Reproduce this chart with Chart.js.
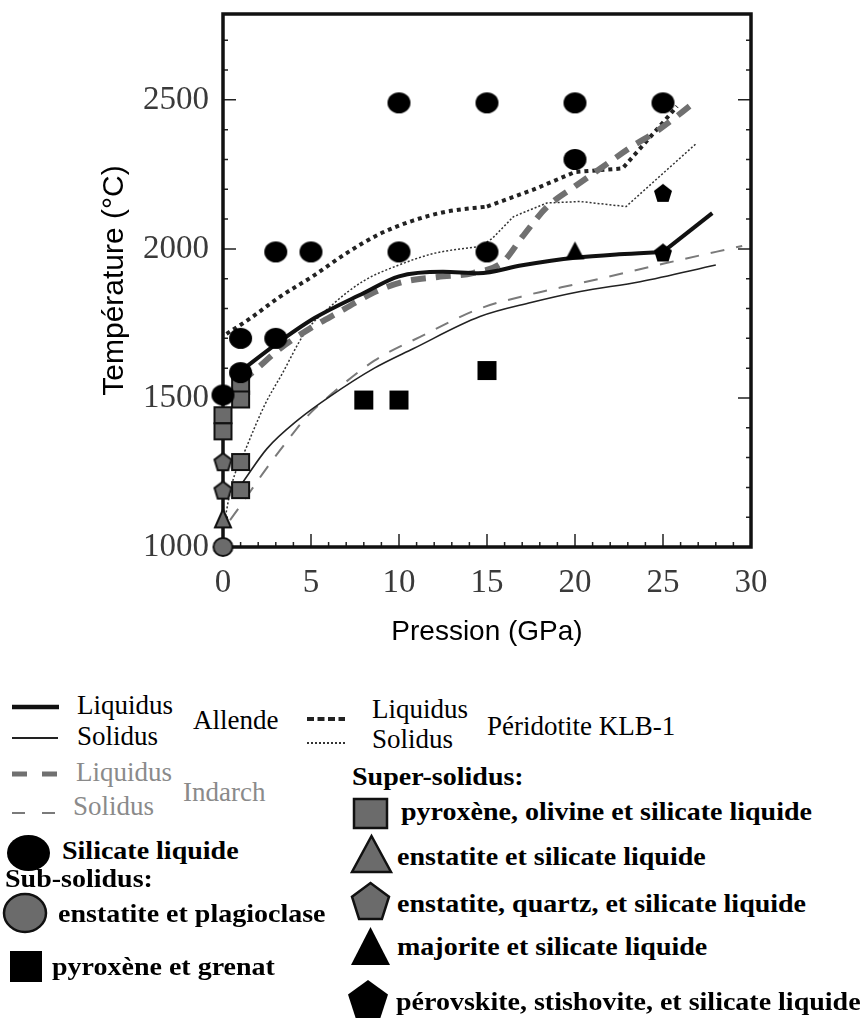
<!DOCTYPE html>
<html lang="fr">
<head>
<meta charset="UTF-8" />
<title>Température en fonction de la pression</title>
<script src="https://cdn.jsdelivr.net/npm/chart.js"></script>
<style>
  html, body { margin: 0; padding: 0; background: #fff; }
  #wrap { position: relative; width: 864px; height: 1019px; overflow: hidden; }
  #chartBox { position: absolute; left: 0; top: 0; width: 864px; height: 660px; }
  .lg { position: absolute; white-space: nowrap; font-family: "Liberation Serif", "Times New Roman", serif; color: #000; transform-origin: 0 50%; }
  .sym { position: absolute; }
</style>
</head>
<body>
<div id="wrap">
  <div id="chartBox"><canvas id="diagram" width="864" height="660"></canvas></div>
</div>
<script>
  // ---- courbes (pression en GPa, température en °C) ----
  const allendeLiqP = [1, 3, 5.2, 8, 10, 12.5, 14.5, 17, 20, 22.5, 25, 27.8];
  const allendeLiqT = [1590, 1680, 1768, 1852, 1908, 1923, 1918, 1945, 1970, 1982, 1990, 2120];

  const allendeSolP = [1.1, 2.5, 4.3, 6, 8.6, 10.8, 14.6, 17.5, 20.3, 23.7, 28];
  const allendeSolT = [1215, 1330, 1428, 1502, 1600, 1665, 1773, 1820, 1857, 1890, 1946];

  const indarchLiqP = [1, 1.6, 3.3, 5, 6.8, 8.5, 10.2, 12.2, 14.2, 15.9, 17, 18.4, 20, 21.5, 23.2, 24.7, 26.8];
  const indarchLiqT = [1555, 1582, 1668, 1735, 1795, 1852, 1889, 1906, 1919, 1956, 2040, 2140, 2210, 2272, 2342, 2397, 2492];

  const indarchSolP = [0.4, 1.1, 2.4, 3.6, 4.7, 6.3, 8.6, 11.2, 14.6, 17.5, 20.3, 25, 29.5];
  const indarchSolT = [1090, 1148, 1258, 1352, 1433, 1520, 1625, 1705, 1800, 1848, 1885, 1950, 2010];

  const klbLiqP = [0.2, 1.5, 3.2, 5.2, 7, 8.9, 10.8, 12.7, 15, 17.6, 20, 22.7, 25.8];
  const klbLiqT = [1715, 1765, 1838, 1912, 1985, 2050, 2095, 2125, 2142, 2198, 2258, 2270, 2478];

  const klbSolP = [0.1, 0.5, 1.3, 2.4, 3.35, 4.65, 6.2, 8, 10, 12, 14.6, 15.3, 16.5, 18.4, 20.3, 22.9, 26.9];
  const klbSolT = [1090, 1210, 1330, 1480, 1580, 1718, 1812, 1893, 1946, 1985, 2008, 2035, 2108, 2154, 2159, 2142, 2354];

  // index where a curve turns from smooth to straight segments
  const allendeLiqKink = 10;
  const klbLiqKink = 8;
  const klbSolKink = 10;

  // ---- expériences ----
  const silLiqP = [0, 1, 1, 3, 3, 5, 10, 10, 15, 15, 20, 20, 25];
  const silLiqT = [1510, 1585, 1700, 1700, 1990, 1990, 1990, 2490, 1990, 2490, 2300, 2490, 2490];

  const pyrOlP = [1, 1, 0, 0, 1, 1];
  const pyrOlT = [1540, 1495, 1442, 1388, 1285, 1191];

  const enstQzP = [0, 0];
  const enstQzT = [1286, 1191];

  const enstLiqP = [0];
  const enstLiqT = [1096];

  const enstPlagP = [0];
  const enstPlagT = [1000];

  const pyrGrenatP = [8, 10, 15];
  const pyrGrenatT = [1493, 1493, 1592];

  const majoriteP = [20];
  const majoriteT = [1995];

  const perovP = [25, 25];
  const perovT = [1988, 2188];

  const pressionTicks = [0, 5, 10, 15, 20, 25, 30];
  const temperatureTicks = [1000, 1500, 2000, 2500];

  const GREY = '#6b6b6b';

  function pts(P, T) { return P.map((p, i) => ({ x: p, y: T[i] })); }

  // marker drawn on a small canvas, used as Chart.js pointStyle
  function marker(shape, w, h, fill, stroke, lw) {
    lw = lw || 0;
    const pad = Math.ceil(lw) + 1;
    const c = document.createElement('canvas');
    c.width = Math.ceil(w) + pad * 2;
    c.height = Math.ceil(h) + pad * 2;
    const g = c.getContext('2d');
    const cx = c.width / 2, cy = c.height / 2;
    g.beginPath();
    if (shape === 'ellipse') {
      g.ellipse(cx, cy, w / 2, h / 2, 0, 0, Math.PI * 2);
    } else if (shape === 'rect') {
      g.rect(cx - w / 2, cy - h / 2, w, h);
    } else if (shape === 'triangle') {
      g.moveTo(cx, cy - h / 2);
      g.lineTo(cx + w / 2, cy + h / 2);
      g.lineTo(cx - w / 2, cy + h / 2);
      g.closePath();
    } else if (shape === 'pentagon') {
      for (let k = 0; k < 5; k++) {
        const a = -Math.PI / 2 + k * 2 * Math.PI / 5;
        const px = cx + Math.cos(a) * (w / 1.902);
        const py = cy - h / 2 + (Math.sin(a) + 1) * (h / 1.809);
        if (k === 0) g.moveTo(px, py); else g.lineTo(px, py);
      }
      g.closePath();
    }
    g.fillStyle = fill;
    g.fill();
    if (stroke && lw) { g.lineWidth = lw; g.strokeStyle = stroke; g.stroke(); }
    return c;
  }

  function pointSet(P, T, style) {
    return { data: pts(P, T), pointStyle: style, pointRadius: 10, showLine: false, clip: false };
  }
  function line(data, color, width, dash, smooth) {
    return {
      data, showLine: true, borderColor: color, borderWidth: width,
      borderDash: dash || [], borderCapStyle: 'butt', borderJoinStyle: 'round', pointRadius: 0,
      cubicInterpolationMode: smooth ? 'monotone' : 'default', tension: 0,
      fill: false, clip: false
    };
  }
  // smooth part up to the kink, straight segments after it
  function curve(P, T, color, width, dash, kink) {
    const d = pts(P, T);
    if (kink === undefined) return [line(d, color, width, dash, true)];
    return [line(d.slice(0, kink + 1), color, width, dash, true),
            line(d.slice(kink), color, width, dash, false)];
  }

  const frameAndTicks = {
    id: 'frameAndTicks',
    beforeDatasetsDraw(chart) {
      const { ctx, chartArea: a, scales: { x, y } } = chart;
      ctx.save();
      ctx.strokeStyle = '#222';
      ctx.lineWidth = 1.5;
      ctx.beginPath();
      for (let v = 1; v < 30; v++) {
        const px = x.getPixelForValue(v);
        const len = v % 5 === 0 ? 13 : 5;
        ctx.moveTo(px, a.bottom); ctx.lineTo(px, a.bottom - len);
      }
      for (let v = 1100; v < 2790; v += 100) {
        const py = y.getPixelForValue(v);
        const len = v % 500 === 0 ? 13 : 5;
        ctx.moveTo(a.left, py); ctx.lineTo(a.left + len, py);
        ctx.moveTo(a.right, py); ctx.lineTo(a.right - len, py);
      }
      ctx.stroke();
      ctx.lineWidth = 3.5;
      ctx.strokeStyle = '#111';
      ctx.strokeRect(a.left, a.top, a.right - a.left, a.bottom - a.top);
      ctx.restore();
    }
  };

  const serif = '"Liberation Serif", "Times New Roman", serif';
  const sans = '"Liberation Sans", Arial, sans-serif';

  new Chart(document.getElementById('diagram'), {
    type: 'scatter',
    data: {
      datasets: [
        pointSet(silLiqP, silLiqT, marker('ellipse', 23, 21, '#000')),
        pointSet(pyrGrenatP, pyrGrenatT, marker('rect', 19, 19, '#000')),
        pointSet(majoriteP, majoriteT, marker('triangle', 19, 18, '#000')),
        pointSet(perovP, perovT, marker('pentagon', 18, 18, '#000')),
        pointSet(pyrOlP, pyrOlT, marker('rect', 17, 16, GREY, '#111', 2)),
        pointSet(enstQzP, enstQzT, marker('pentagon', 17, 17, GREY, '#111', 2)),
        pointSet(enstLiqP, enstLiqT, marker('triangle', 16, 18, GREY, '#111', 2)),
        pointSet(enstPlagP, enstPlagT, marker('ellipse', 19, 18, GREY, '#111', 2)),
        ...curve(allendeLiqP, allendeLiqT, '#111', 4, null, allendeLiqKink),
        ...curve(allendeSolP, allendeSolT, '#222', 1.6),
        ...curve(indarchLiqP, indarchLiqT, '#707070', 6, [15, 10]),
        ...curve(indarchSolP, indarchSolT, '#7a7a7a', 2, [14, 12]),
        ...curve(klbLiqP, klbLiqT, '#222', 4, [4, 4], klbLiqKink),
        ...curve(klbSolP, klbSolT, '#333', 1.5, [2, 2], klbSolKink)
      ]
    },
    options: {
      responsive: false,
      animation: false,
      events: [],
      layout: { padding: { top: 14, right: 113, bottom: 0, left: 0 } },
      plugins: { legend: { display: false }, tooltip: { enabled: false } },
      scales: {
        x: {
          type: 'linear', min: 0, max: 30,
          grid: { display: false, drawTicks: false },
          border: { display: false },
          afterBuildTicks(s) { s.ticks = pressionTicks.map(v => ({ value: v })); },
          ticks: {
            padding: 17, color: '#3a3a3a', maxRotation: 0, includeBounds: false,
            font: { family: serif, size: 33 },
            callback: v => String(v)
          },
          title: {
            display: true, text: 'Pression (GPa)', color: '#000',
            font: { family: sans, size: 28 },
            padding: { top: 0, bottom: 11 }
          },
          afterFit(s) { s.height = 113; s.paddingLeft = 0; s.paddingRight = 0; }
        },
        y: {
          type: 'linear', min: 1000, max: 2788,
          grid: { display: false, drawTicks: false },
          border: { display: false },
          afterBuildTicks(s) { s.ticks = temperatureTicks.map(v => ({ value: v })); },
          ticks: {
            padding: 14, color: '#3a3a3a', includeBounds: false,
            font: { family: serif, size: 33 },
            callback: v => String(v)
          },
          title: {
            display: true, text: 'Température (°C)', color: '#000',
            font: { family: sans, size: 30 },
            padding: { top: 97, bottom: 0 }
          },
          afterFit(s) { s.width = 223; s.paddingTop = 0; s.paddingBottom = 0; }
        }
      }
    },
    plugins: [frameAndTicks]
  });

  // ---- légende (HTML) ----
  const wrap = document.getElementById('wrap');

  function addText(txt, x, baseline, size, bold, color, sx) {
    const s = document.createElement('div');
    s.className = 'lg';
    s.textContent = txt;
    s.style.fontSize = size + 'px';
    s.style.lineHeight = size + 'px';
    s.style.left = x + 'px';
    s.style.top = (baseline - 0.8375 * size) + 'px';
    if (bold) s.style.fontWeight = 'bold';
    if (color) s.style.color = color;
    if (sx) s.style.transform = 'scaleX(' + sx + ')';
    wrap.appendChild(s);
  }
  function addMarker(c, cx, cy) {
    c.className = 'sym';
    c.style.left = (cx - c.width / 2) + 'px';
    c.style.top = (cy - c.height / 2) + 'px';
    wrap.appendChild(c);
  }
  function addLine(x1, x2, y, color, width, dash) {
    const c = document.createElement('canvas');
    c.width = x2 - x1; c.height = 12;
    const g = c.getContext('2d');
    g.strokeStyle = color; g.lineWidth = width; g.setLineDash(dash || []);
    g.beginPath(); g.moveTo(0, 6); g.lineTo(c.width, 6); g.stroke();
    c.className = 'sym';
    c.style.left = x1 + 'px'; c.style.top = (y - 6) + 'px';
    wrap.appendChild(c);
  }

  const TXT_GREY = '#8a8a8a';
  addLine(12, 59, 707, '#111', 4.5);
  addLine(12, 58, 738, '#222', 2);
  addText('Liquidus', 77, 715, 27);
  addText('Solidus', 77, 746, 27);
  addText('Allende', 193, 730, 27);

  addLine(307, 345, 719, '#222', 4, [7, 3.5]);
  addLine(307, 345, 743, '#333', 2, [2, 2]);
  addText('Liquidus', 372, 719, 27);
  addText('Solidus', 372, 749, 27);
  addText('Péridotite KLB-1', 487, 736, 27);

  addLine(12, 58, 774, '#707070', 5, [15, 15]);
  addLine(12, 58, 813, '#7a7a7a', 2, [13, 17]);
  addText('Liquidus', 76, 782, 27, false, TXT_GREY);
  addText('Solidus', 73, 816, 27, false, TXT_GREY);
  addText('Indarch', 183, 802, 27, false, TXT_GREY);

  const SX = 1.12;
  addMarker(marker('ellipse', 43, 36, '#000'), 28.5, 853);
  addText('Silicate liquide', 62, 859, 25, true, null, SX);
  addText('Sub-solidus:', 5, 887, 25, true, null, SX);
  addMarker(marker('ellipse', 42, 38, GREY, '#111', 2.5), 25, 913);
  addText('enstatite et plagioclase', 58, 922, 25, true, null, SX);
  addMarker(marker('rect', 32, 31, '#000'), 26, 966);
  addText('pyroxène et grenat', 52, 975, 25, true, null, SX);

  addText('Super-solidus:', 352, 785, 25, true, null, SX);
  addMarker(marker('rect', 33, 29, GREY, '#111', 2.5), 370, 813);
  addText('pyroxène, olivine et silicate liquide', 401, 820, 25, true, null, SX);
  addMarker(marker('triangle', 39, 36, GREY, '#111', 2.5), 371, 854);
  addText('enstatite et silicate liquide', 397, 865, 25, true, null, SX);
  addMarker(marker('pentagon', 37, 36, GREY, '#111', 2.5), 370, 901);
  addText('enstatite, quartz, et silicate liquide', 397, 912, 25, true, null, SX);
  addMarker(marker('triangle', 39, 38, '#000'), 370, 946);
  addText('majorite et silicate liquide', 397, 955, 25, true, null, SX);
  addMarker(marker('pentagon', 40, 38, '#000'), 368, 999);
  addText('pérovskite, stishovite, et silicate liquide', 396, 1010, 25, true, null, SX);
</script>
</body>
</html>
